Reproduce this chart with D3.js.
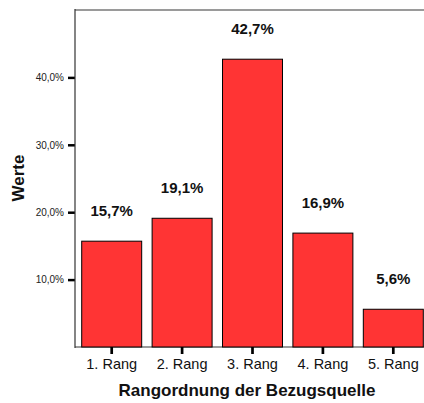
<!DOCTYPE html>
<html>
<head>
<meta charset="utf-8">
<script src="https://cdn.jsdelivr.net/npm/d3@7"></script>
<style>
  html, body { margin: 0; padding: 0; background: #fff; }
  svg { display: block; font-family: "Liberation Sans", Arial, Helvetica, sans-serif; }
</style>
</head>
<body>
<svg id="chart" width="424" height="403"></svg>
<script>
// Ranking of supply sources: share per rank
const categories = ["1. Rang", "2. Rang", "3. Rang", "4. Rang", "5. Rang"];
const values = [15.7, 19.1, 42.7, 16.9, 5.6];
const yTicks = [10, 20, 30, 40];
const xTitle = "Rangordnung der Bezugsquelle";
const yTitle = "Werte";

const svg = d3.select("#chart");
const plotLeft = 75, plotTop = 10, plotBottom = 347, plotRight = 424;

const fmt = v => d3.format(".1f")(v).replace(".", ",") + "%";

const y = d3.scaleLinear().domain([0, 50]).range([plotBottom, plotTop]);
const x = d3.scaleBand()
  .domain(categories)
  .range([76.5, 428.5])
  .paddingInner(0.148)
  .paddingOuter(0.074);

// frame lines
svg.append("line")
  .attr("x1", plotLeft).attr("x2", plotRight).attr("y1", plotTop).attr("y2", plotTop)
  .attr("stroke", "#9a9a9a").attr("stroke-width", 2);
svg.append("line")
  .attr("x1", plotLeft).attr("x2", plotRight).attr("y1", plotBottom).attr("y2", plotBottom)
  .attr("stroke", "#9a9a9a").attr("stroke-width", 2);

// bars
svg.append("g").selectAll("rect")
  .data(values)
  .join("rect")
  .attr("x", (d, i) => x(categories[i]))
  .attr("width", x.bandwidth())
  .attr("y", d => y(d))
  .attr("height", d => plotBottom - y(d))
  .attr("fill", "#ff3434")
  .attr("stroke", "#000")
  .attr("stroke-width", 1);

// value labels
svg.append("g").selectAll("text")
  .data(values)
  .join("text")
  .attr("x", (d, i) => x(categories[i]) + x.bandwidth() / 2)
  .attr("y", d => y(d) - 25)
  .attr("text-anchor", "middle")
  .attr("font-size", 15)
  .attr("font-weight", "bold")
  .attr("fill", "#111")
  .text(d => fmt(d));

// y axis
const yAxis = d3.axisLeft(y)
  .tickValues(yTicks)
  .tickSize(7)
  .tickPadding(4)
  .tickFormat(fmt);
const gy = svg.append("g").attr("transform", `translate(${plotLeft},0)`).call(yAxis);
gy.select(".domain").remove();
gy.selectAll(".tick line").attr("stroke", "#000").attr("stroke-width", 2.5);
gy.selectAll(".tick text").attr("font-size", 10).attr("fill", "#222")
  .attr("font-family", "'Liberation Sans', Arial, sans-serif");
svg.append("line")
  .attr("x1", plotLeft).attr("x2", plotLeft).attr("y1", plotTop - 1).attr("y2", plotBottom + 1)
  .attr("stroke", "#333").attr("stroke-width", 1.2);

// x axis
const xAxis = d3.axisBottom(x).tickSize(7).tickPadding(5);
const gx = svg.append("g").attr("transform", `translate(0,${plotBottom})`).call(xAxis);
gx.select(".domain").remove();
gx.selectAll(".tick line").attr("stroke", "#000").attr("stroke-width", 2.7);
gx.selectAll(".tick text").attr("font-size", 14.5).attr("fill", "#111")
  .attr("font-family", "'Liberation Sans', Arial, sans-serif");

// titles
svg.append("text")
  .attr("x", 247).attr("y", 396)
  .attr("text-anchor", "middle")
  .attr("font-size", 17).attr("font-weight", "bold").attr("fill", "#111")
  .text(xTitle);
svg.append("text")
  .attr("transform", "translate(23.5,178) rotate(-90)")
  .attr("text-anchor", "middle")
  .attr("font-size", 17).attr("font-weight", "bold").attr("fill", "#111")
  .text(yTitle);
</script>
</body>
</html>
